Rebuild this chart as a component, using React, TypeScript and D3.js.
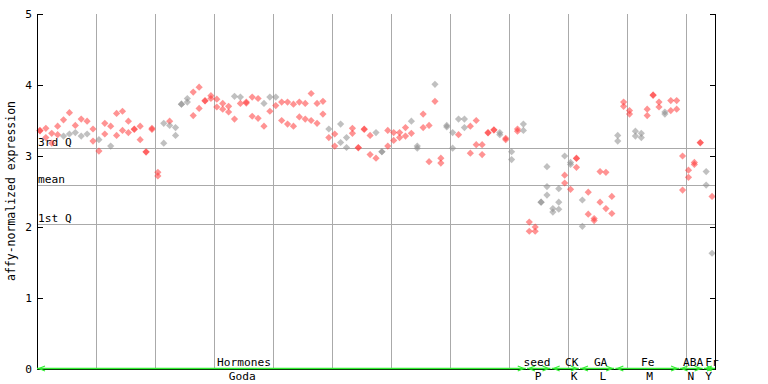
import React from "react";
import * as d3 from "d3";

// values per sample position (replicates)
const sampleValues: number[][] = [
  [3.36, 3.355], [3.39, 3.26], [3.32, 3.18], [3.42, 3.30], [3.51, 3.28],
  [3.61, 3.31], [3.43, 3.33], [3.52, 3.28], [3.49, 3.31], [3.38, 3.21],
  [3.23, 3.07], [3.46, 3.31], [3.42, 3.14], [3.60, 3.29], [3.63, 3.36],
  [3.49, 3.33], [3.38, 3.375], [3.42, 3.23], [3.06, 3.055], [3.39, 3.375],
  [2.77, 2.72], [3.46, 3.18], [3.49, 3.43], [3.40, 3.29], [3.73, 3.73],
  [3.81, 3.76], [3.90, 3.57], [3.97, 3.67], [3.78, 3.775], [3.85, 3.81],
  [3.80, 3.69], [3.74, 3.66], [3.70, 3.62], [3.84, 3.52], [3.83, 3.74],
  [3.76, 3.745], [3.83, 3.56], [3.81, 3.53], [3.74, 3.42], [3.83, 3.63],
  [3.83, 3.71], [3.76, 3.50], [3.76, 3.45], [3.73, 3.42], [3.76, 3.55],
  [3.74, 3.52], [3.88, 3.50], [3.74, 3.46], [3.77, 3.59], [3.38, 3.26],
  [3.31, 3.14], [3.45, 3.19], [3.26, 3.12], [3.39, 3.32], [3.12, 3.115],
  [3.38, 3.375], [3.29, 3.02], [3.33, 2.97], [3.06, 3.06], [3.36, 3.14],
  [3.33, 3.22], [3.33, 3.26], [3.40, 3.28], [3.49, 3.32], [3.14, 3.11],
  [3.59, 3.40], [3.43, 2.92], [4.01, 3.77], [2.97, 2.90], [3.43, 3.41],
  [3.33, 3.11], [3.52, 3.30], [3.52, 3.40], [3.42, 3.04], [3.50, 3.16],
  [3.16, 3.02], [3.33, 3.325], [3.37, 3.365], [3.33, 3.30], [3.25, 3.23],
  [3.06, 2.95], [3.38, 3.35], [3.45, 3.36], [2.07, 1.94], [2.00, 1.94],
  [2.35, 2.35], [2.85, 2.57, 2.45], [2.26, 2.21], [2.54, 2.35, 2.25], [3.00, 2.73, 2.62],
  [2.91, 2.88, 2.53], [2.97, 2.965, 2.84], [2.38, 2.01], [2.49, 2.18], [2.12, 2.09],
  [2.78, 2.35], [2.77, 2.26], [2.43, 2.19], [3.29, 3.21], [3.76, 3.70],
  [3.64, 3.59], [3.35, 3.28], [3.32, 3.26], [3.66, 3.57], [3.86, 3.855],
  [3.76, 3.69], [3.62, 3.59], [3.78, 3.64], [3.78, 3.66], [3.00, 2.52],
  [2.80, 2.70], [2.91, 2.88], [3.19, 3.185], [2.78, 2.59], [2.43, 1.63],
];

// marker colour per point: "r" red, "g" grey (same order as sampleValues)
const sampleColors: string[] = [
  "rr", "rr", "rr", "rr", "rg", "rg", "rg", "rg", "rg", "rr",
  "gr", "rr", "rg", "rr", "rr", "rr", "rr", "rr", "rr", "rr",
  "rr", "gg", "rg", "gg", "gg", "gg", "rr", "rr", "rr", "rr",
  "rr", "rr", "rr", "gr", "gr", "rr", "rr", "rr", "gr", "gr",
  "gr", "rr", "rr", "rr", "rr", "rr", "rr", "rr", "rr", "gr",
  "rr", "gg", "gg", "rr", "rr", "rr", "rr", "gr", "gg", "rr",
  "rr", "rr", "rr", "gr", "gg", "rr", "rr", "gr", "rr", "gg",
  "gg", "gr", "gg", "rr", "rr", "rr", "rr", "rr", "gg", "rr",
  "gg", "rr", "gg", "rr", "rr", "gg", "ggg", "gg", "ggg", "grr",
  "ggr", "rrr", "gg", "rr", "rr", "rr", "rr", "rr", "gg", "rr",
  "rr", "gg", "gg", "rr", "rr", "rr", "gg", "rr", "rr", "rr",
  "rr", "rr", "rr", "gg", "rg",
];

const quartileNames = ["3rd Q", "mean", "1st Q"];
const quartileValues = [3.11, 2.59, 2.04];

const yTicks = [0, 1, 2, 3, 4, 5];

const groupNames = ["Hormones", "seed", "CK", "GA", "Fe", "ABA", "Fr"];
const groupCodes = ["Goda", "P", "K", "L", "M", "N", "Y"];
const groupNameCenters = [34.6, 84.3, 90.2, 95.1, 103.1, 110.8, 114.0];
const groupCodeCenters = [34.3, 84.5, 90.6, 95.5, 103.4, 110.4, 113.4];
const groupStart = [-0.5, 82.6, 86.8, 91.6, 97.6, 108.5, 112.6];
const groupEnd = [82.4, 86.6, 91.4, 97.4, 108.4, 112.4, 114.5];

const W = 768;
const H = 384;
const FONT = "'DejaVu Sans Mono', monospace";

export default function App() {
  const n = sampleValues.length;
  const x = d3.scaleLinear().domain([-0.5, n - 0.5]).range([37, 715]);
  const y = d3.scaleLinear().domain([0, 5]).range([369, 14]);
  const x0 = x(-0.5);
  const x1 = x(n - 0.5);
  const gridIdx = d3.range(9.5, n - 1, 10);
  const diamond = (cx: number, cy: number) =>
    `M${cx},${cy - 3.6}L${cx + 3.6},${cy}L${cx},${cy + 3.6}L${cx - 3.6},${cy}Z`;
  const gy = 368.5;

  return (
    <svg width={W} height={H} style={{ position: "absolute", left: 0, top: 0 }}
      fontFamily={FONT} fontSize={11.2}>
      <rect width={W} height={H} fill="#fff" />
      {gridIdx.map((g) => (
        <line key={g} x1={Math.round(x(g)) + 0.5} x2={Math.round(x(g)) + 0.5}
          y1={y(5)} y2={y(0)} stroke="#aaa" strokeWidth={1} />
      ))}
      {quartileValues.map((q, i) => (
        <g key={i}>
          <line x1={x0} x2={x1} y1={Math.round(y(q)) + 0.5} y2={Math.round(y(q)) + 0.5}
            stroke="#aaa" strokeWidth={1} />
          <text x={x0 + 1} y={Math.round(y(q)) - 2} fill="#000">{quartileNames[i]}</text>
        </g>
      ))}
      {sampleValues.map((vals, i) =>
        vals.map((v, j) => (
          <path key={`${i}-${j}`} d={diamond(x(i), y(v))}
            fill={(sampleColors[i] || "")[j] === "g" ? "#8c8c8c" : "#ff3b3b"} fillOpacity={0.55} />
        ))
      )}
      {/* left axis */}
      <line x1={x0 + 0.5} x2={x0 + 0.5} y1={y(5)} y2={y(0) + 1} stroke="#000" />
      {yTicks.map((t) => (
        <g key={t}>
          <line x1={x0} x2={x0 + 6} y1={Math.round(y(t)) + 0.5} y2={Math.round(y(t)) + 0.5} stroke="#000" />
          <text x={x0 - 5} y={y(t) + 4} textAnchor="end" fill="#000">{t}</text>
          <line x1={x1 - 5} x2={x1} y1={Math.round(y(t)) + 0.5} y2={Math.round(y(t)) + 0.5} stroke="#000" />
        </g>
      ))}
      {/* right axis */}
      <line x1={x1 + 0.5} x2={x1 + 0.5} y1={y(5)} y2={y(0) + 1} stroke="#000" />
      {/* bottom axis */}
      <line x1={x0} x2={x1 + 1} y1={369.5} y2={369.5} stroke="#000" />
      {groupNames.map((g, i) => {
        const s = x(groupStart[i]);
        const e = x(groupEnd[i]);
        return (
          <g key={g}>
            <line x1={s} x2={e} y1={gy} y2={gy} stroke="#33ee33" strokeWidth={1.5} />
            <path d={`M${s + 8},${gy - 2.5}L${s + 2},${gy}L${s + 8},${gy + 2.5}`} fill="none" stroke="#33ee33" strokeWidth={1.2} />
            <path d={`M${e - 8},${gy - 2.5}L${e - 2},${gy}L${e - 8},${gy + 2.5}`} fill="none" stroke="#33ee33" strokeWidth={1.2} />
            <text x={x(groupNameCenters[i])} y={365.5} textAnchor="middle" fill="#000">{g}</text>
            <text x={x(groupCodeCenters[i])} y={380} textAnchor="middle" fill="#000">{groupCodes[i]}</text>
          </g>
        );
      })}
      <text transform={`translate(15,191) rotate(-90)`} textAnchor="middle" fill="#000" fontSize={11.5}>
        affy-normalized expression
      </text>
    </svg>
  );
}
